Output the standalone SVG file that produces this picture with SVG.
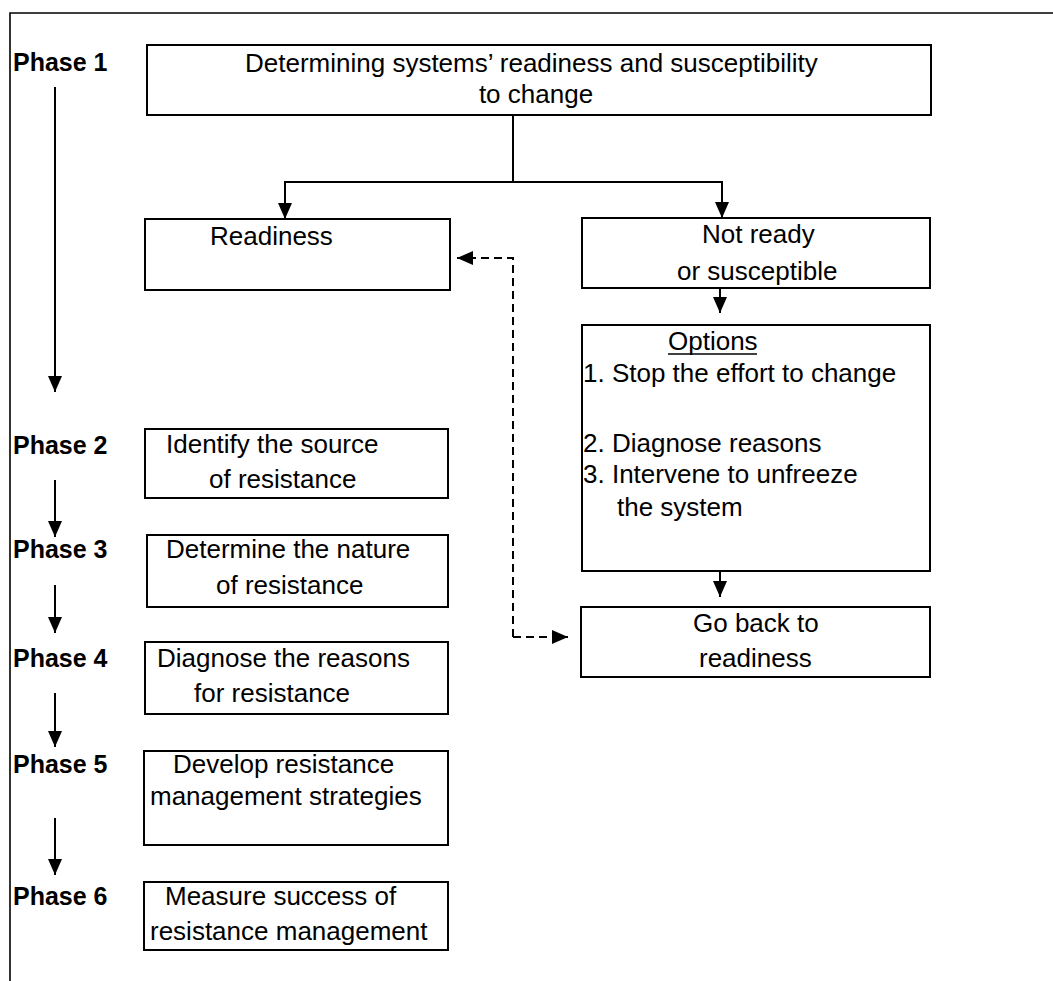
<svg xmlns="http://www.w3.org/2000/svg" width="1053" height="981" viewBox="0 0 1053 981">
  <style>
    .box { fill: #ffffff; stroke: #000000; stroke-width: 2; }
    .frame { fill: none; stroke: #000000; stroke-width: 1.6; }
    .txt { font-family: "Liberation Sans", Arial, sans-serif; font-size: 26px; fill: #000000; }
    .phase { font-family: "Liberation Sans", Arial, sans-serif; font-size: 25px; font-weight: bold; fill: #000000; }
    .line { fill: none; stroke: #000000; stroke-width: 2; }
    .dash { fill: none; stroke: #000000; stroke-width: 2; stroke-dasharray: 8 5; }
  </style>
  <defs>
    <marker id="arrow" viewBox="0 0 16 14" refX="16" refY="7" markerWidth="16" markerHeight="14" markerUnits="userSpaceOnUse" orient="auto">
      <path d="M0,0 L16,7 L0,14 z" fill="#000000"/>
    </marker>
  </defs>
  <rect width="1053" height="981" fill="#ffffff"/>

  <!-- outer frame: top and left edges -->
  <path class="frame" d="M10,981 V13 H1053"/>

  <!-- phase column -->
  <g id="phase-labels">
    <text class="phase" x="13" y="71">Phase 1</text>
    <text class="phase" x="13" y="454">Phase 2</text>
    <text class="phase" x="13" y="558">Phase 3</text>
    <text class="phase" x="13" y="667">Phase 4</text>
    <text class="phase" x="13" y="773">Phase 5</text>
    <text class="phase" x="13" y="905">Phase 6</text>
  </g>

  <g id="node-determine">
    <rect class="box" x="147" y="45" width="784" height="70"/>
    <text class="txt" x="245" y="72">Determining systems’ readiness and susceptibility</text>
    <text class="txt" x="536" y="103" text-anchor="middle">to change</text>
  </g>

  <g id="node-readiness">
    <rect class="box" x="145" y="219" width="305" height="71"/>
    <text class="txt" x="210" y="245">Readiness</text>
  </g>

  <g id="node-not-ready">
    <rect class="box" x="582" y="218" width="348" height="70"/>
    <text class="txt" x="702" y="243">Not ready</text>
    <text class="txt" x="677" y="280">or susceptible</text>
  </g>

  <g id="node-options">
    <rect class="box" x="582" y="325" width="348" height="246"/>
    <text class="txt" x="668" y="350">Options</text>
    <line x1="668" y1="354" x2="757" y2="354" stroke="#000000" stroke-width="1.6"/>
    <text class="txt" x="583" y="382">1. Stop the effort to change</text>
    <text class="txt" x="583" y="452">2. Diagnose reasons</text>
    <text class="txt" x="583" y="483">3. Intervene to unfreeze</text>
    <text class="txt" x="617" y="516">the system</text>
  </g>

  <g id="node-go-back">
    <rect class="box" x="581" y="607" width="349" height="70"/>
    <text class="txt" x="693" y="632">Go back to</text>
    <text class="txt" x="699" y="667">readiness</text>
  </g>

  <g id="node-phase2">
    <rect class="box" x="145" y="429" width="303" height="69"/>
    <text class="txt" x="166" y="453">Identify the source</text>
    <text class="txt" x="209" y="488">of resistance</text>
  </g>

  <g id="node-phase3">
    <rect class="box" x="147" y="535" width="301" height="72"/>
    <text class="txt" x="166" y="558">Determine the nature</text>
    <text class="txt" x="216" y="594">of resistance</text>
  </g>

  <g id="node-phase4">
    <rect class="box" x="145" y="642" width="303" height="72"/>
    <text class="txt" x="157" y="667">Diagnose the reasons</text>
    <text class="txt" x="194" y="702">for resistance</text>
  </g>

  <g id="node-phase5">
    <rect class="box" x="144" y="751" width="304" height="94"/>
    <text class="txt" x="173" y="773">Develop resistance</text>
    <text class="txt" x="150" y="805">management strategies</text>
  </g>

  <g id="node-phase6">
    <rect class="box" x="144" y="882" width="304" height="68"/>
    <text class="txt" x="165" y="905">Measure success of</text>
    <text class="txt" x="150" y="940">resistance management</text>
  </g>

  <g id="connectors">
    <!-- phase progression -->
    <path class="line" d="M55,87 V392" marker-end="url(#arrow)"/>
    <path class="line" d="M55,480 V537" marker-end="url(#arrow)"/>
    <path class="line" d="M55,585 V633" marker-end="url(#arrow)"/>
    <path class="line" d="M55,693 V747" marker-end="url(#arrow)"/>
    <path class="line" d="M55,818 V875" marker-end="url(#arrow)"/>
    <!-- split from the top box -->
    <path class="line" d="M513,115 V182 H285 V219" marker-end="url(#arrow)"/>
    <path class="line" d="M513,182 H722 V218" marker-end="url(#arrow)"/>
    <!-- right column -->
    <path class="line" d="M720,288 V313" marker-end="url(#arrow)"/>
    <path class="line" d="M720,571 V597" marker-end="url(#arrow)"/>
    <!-- dashed return loop -->
    <path class="dash" d="M513,637 V258 H457" marker-end="url(#arrow)"/>
    <path class="dash" d="M513,637 H568" marker-end="url(#arrow)"/>
  </g>
</svg>
